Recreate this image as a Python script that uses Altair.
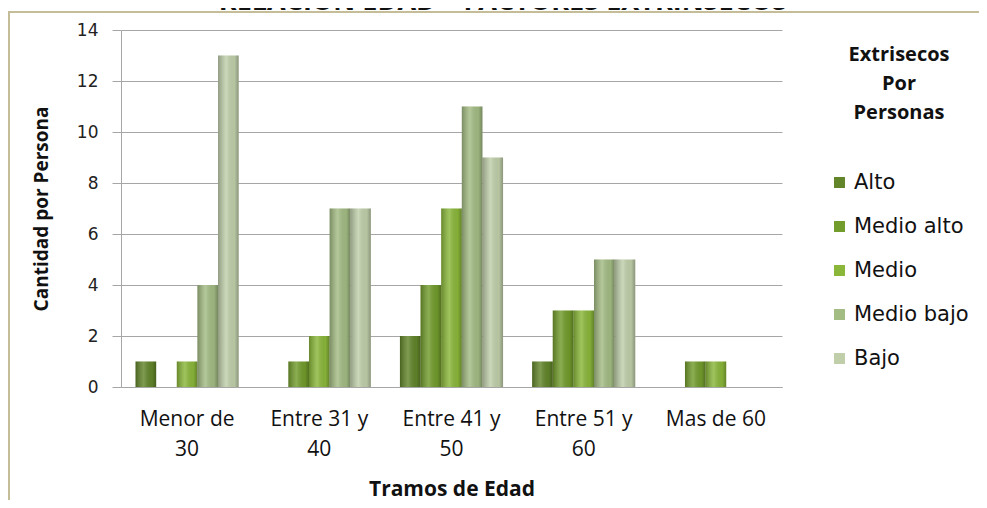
import altair as alt
import pandas as pd

# ---- data ----
categories = ["Menor de 30", "Entre 31 y 40", "Entre 41 y 50", "Entre 51 y 60", "Mas de 60"]
series = ["Alto", "Medio alto", "Medio", "Medio bajo", "Bajo"]
alto = [1, 0, 2, 1, 0]
medio_alto = [0, 1, 4, 3, 1]
medio = [1, 2, 7, 3, 1]
medio_bajo = [4, 7, 11, 5, 0]
bajo = [13, 7, 9, 5, 0]
colors = ["#62852A", "#729C2C", "#8AB73A", "#A3BC84", "#C0CFAA"]
y_ticks = [0, 2, 4, 6, 8, 10, 12, 14]
chart_title = "RELACION EDAD – FACTORES EXTRINSECOS"
legend_title = ["Extrisecos", "Por", "Personas"]

rows = []
for s, vals in zip(series, [alto, medio_alto, medio, medio_bajo, bajo]):
    for c, v in zip(categories, vals):
        rows.append({"Tramo": c, "Serie": s, "Cantidad": v})
df = pd.DataFrame(rows)

W, H = 661, 357
GRID = "#A6A6A6"
FRAME = "#C4BD97"

x_enc = alt.X(
    "Tramo:N",
    sort=categories,
    scale=alt.Scale(paddingInner=0.22, paddingOuter=0.11),
    axis=alt.Axis(
        title="Tramos de Edad",
        labelAngle=0,
        ticks=False,
        labelExpr="datum.label == 'Mas de 60' ? datum.label : [substring(datum.label, 0, lastindexof(datum.label, ' ')), substring(datum.label, lastindexof(datum.label, ' ') + 1)]",
        labelFont="Open Sans",
        labelFontSize=21,
        labelColor="#111111",
        labelPadding=21,
        labelLineHeight=30,
        titleFont="Open Sans",
        titleFontSize=21,
        titleFontWeight="bold",
        titleColor="#111111",
        titlePadding=19,
        domainColor=GRID,
        grid=False,
    ),
)
xo_enc = alt.XOffset("Serie:N", sort=series, scale=alt.Scale(domain=series, paddingInner=0, paddingOuter=0))
y_enc = alt.Y(
    "Cantidad:Q",
    scale=alt.Scale(domain=[0, 14], nice=False),
    axis=alt.Axis(
        values=y_ticks,
        title="Cantidad  por Persona",
        labelFont="DejaVu Sans",
        labelFontSize=17,
        labelColor="#222222",
        labelPadding=14,
        tickSize=9,
        tickColor=GRID,
        domainColor=GRID,
        gridColor=GRID,
        titleFont="Open Sans",
        titleFontSize=19,
        titleFontWeight="bold",
        titleColor="#111111",
        titlePadding=25,
    ),
)

bars = alt.Chart(df).mark_bar().encode(
    x=x_enc,
    xOffset=xo_enc,
    y=y_enc,
    color=alt.Color(
        "Serie:N",
        sort=series,
        scale=alt.Scale(domain=series, range=colors),
        legend=alt.Legend(
            title=legend_title,
            orient="none",
            legendX=708,
            legendY=15,
            titleFont="Open Sans",
            titleFontSize=20,
            titleFontWeight="bold",
            titleColor="#111111",
            titleLineHeight=29,
            titleAnchor="middle",
            titleAlign="center",
            titlePadding=49,
            labelFont="DejaVu Sans",
            labelFontSize=21,
            labelColor="#111111",
            labelOffset=4,
            symbolType="square",
            symbolSize=120,
            symbolStrokeWidth=0,
            rowPadding=22,
        ),
    ),
)

shade = alt.Chart(df).mark_bar(
    fill=alt.LinearGradient(
        gradient="linear",
        stops=[
            alt.GradientStop(color="rgba(0,0,0,0.25)", offset=0),
            alt.GradientStop(color="rgba(255,255,255,0.18)", offset=0.4),
            alt.GradientStop(color="rgba(0,0,0,0.05)", offset=0.8),
            alt.GradientStop(color="rgba(0,0,0,0.28)", offset=1),
        ],
        x1=0, x2=1, y1=0, y2=0,
    )
).encode(x=x_enc, xOffset=xo_enc, y=y_enc)

frame_data = pd.DataFrame({"a": [0]})
frame_top = alt.Chart(frame_data).mark_rule(stroke=FRAME, strokeWidth=2).encode(
    x=alt.value(-113), x2=alt.value(870), y=alt.value(-18)
)
frame_left = alt.Chart(frame_data).mark_rule(stroke=FRAME, strokeWidth=2).encode(
    x=alt.value(-112), y=alt.value(-19), y2=alt.value(490)
)

title_txt = alt.Chart(pd.DataFrame({"t": [chart_title]})).mark_text(
    font="Open Sans", fontSize=27, fontWeight="bold", align="center", baseline="alphabetic", color="#111111"
).encode(text="t:N", x=alt.value(382), y=alt.value(-20))

chart = (
    alt.layer(frame_top, frame_left, bars, shade, title_txt)
    .properties(
        width=W,
        height=H,
        autosize=alt.AutoSizeParams(type="none"),
        padding={"left": 113, "top": 22, "right": 197, "bottom": 113},
        background="white",
    )
    .configure_view(strokeWidth=0)
)

chart.save("out.html", embed_options={"renderer": "svg", "actions": False})
